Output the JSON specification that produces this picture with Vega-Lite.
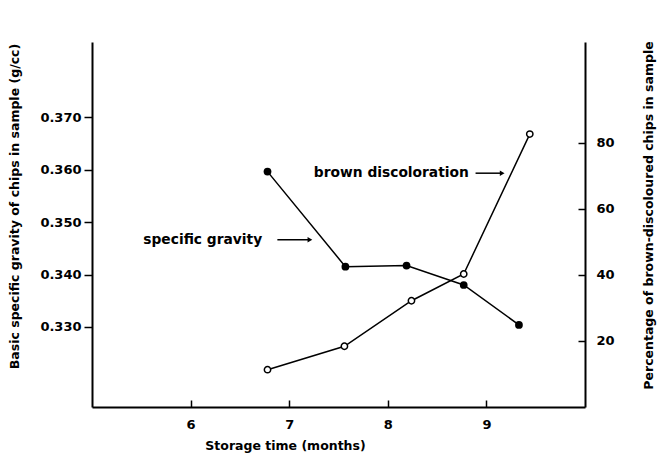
{
  "$schema": "https://vega.github.io/schema/vega-lite/v6.json",
  "width": 493,
  "height": 365,
  "autosize": "none",
  "padding": {"left": 92, "top": 42, "right": 73, "bottom": 54},
  "background": "white",
  "config": {
    "view": {"stroke": null},
    "font": "DejaVu Sans",
    "axis": {
      "grid": false,
      "labelFont": "DejaVu Sans",
      "titleFont": "DejaVu Sans",
      "labelFontWeight": "bold",
      "titleFontWeight": "bold",
      "labelColor": "black",
      "titleColor": "black",
      "domainColor": "black",
      "tickColor": "black",
      "domainWidth": 2,
      "tickWidth": 1.5,
      "labelFontSize": 13,
      "titleFontSize": 12
    }
  },
  "datasets": {
    "gravity": [
      {"month": 6.78, "gravity": 0.3596},
      {"month": 7.57, "gravity": 0.3415},
      {"month": 8.19, "gravity": 0.3417},
      {"month": 8.77, "gravity": 0.3380},
      {"month": 9.33, "gravity": 0.3304}
    ],
    "brown": [
      {"month": 6.78, "pct": 11.3},
      {"month": 7.56, "pct": 18.4},
      {"month": 8.24, "pct": 32.2},
      {"month": 8.77, "pct": 40.3},
      {"month": 9.44, "pct": 82.7}
    ],
    "notes": [
      {"x": 5.52, "y": 0.3466, "label": "specific gravity", "ax1": 6.88, "ax2": 7.21},
      {"x": 7.25, "y": 0.3593, "label": "brown discoloration", "ax1": 8.89, "ax2": 9.16}
    ]
  },
  "encoding": {
    "x": {
      "field": "month",
      "type": "quantitative",
      "scale": {"domain": [5, 10], "nice": false, "zero": false},
      "axis": {
        "values": [6, 7, 8, 9],
        "tickSize": -7,
        "labelPadding": 18,
        "title": "Storage time (months)",
        "titleFontSize": 12.5,
        "titleX": 193,
        "titleY": 38,
        "titleAnchor": null,
        "titleAlign": "center",
        "titleBaseline": "middle"
      }
    }
  },
  "layer": [
    {
      "layer": [
        {
          "data": {"name": "gravity"},
          "mark": {"type": "line", "color": "black", "strokeWidth": 1.5},
          "encoding": {
            "y": {
              "field": "gravity",
              "type": "quantitative",
              "scale": {"domain": [0.31476, 0.38429], "nice": false, "zero": false},
              "axis": {
                "orient": "left",
                "values": [0.33, 0.34, 0.35, 0.36, 0.37],
                "format": ".3f",
                "tickSize": 8,
                "labelPadding": 3,
                "title": "Basic specific gravity of chips in sample (g/cc)",
                "titleFontSize": 12.5,
                "titleAngle": 270,
                "titleX": -78,
                "titleY": 164,
                "titleAlign": "center",
                "titleBaseline": "middle"
              }
            }
          }
        },
        {
          "data": {"name": "gravity"},
          "mark": {"type": "point", "shape": "circle", "filled": true, "color": "black", "size": 60, "opacity": 1},
          "encoding": {"y": {"field": "gravity", "type": "quantitative"}}
        },
        {
          "data": {"name": "notes"},
          "mark": {"type": "text", "align": "left", "baseline": "middle", "fontWeight": "bold", "fontSize": 13.8, "color": "black", "font": "DejaVu Sans"},
          "encoding": {
            "x": {"field": "x", "type": "quantitative"},
            "y": {"field": "y", "type": "quantitative"},
            "text": {"field": "label"}
          }
        },
        {
          "data": {"name": "notes"},
          "mark": {"type": "rule", "color": "black", "strokeWidth": 1.5},
          "encoding": {
            "x": {"field": "ax1", "type": "quantitative"},
            "x2": {"field": "ax2"},
            "y": {"field": "y", "type": "quantitative"}
          }
        },
        {
          "data": {"name": "notes"},
          "mark": {"type": "point", "shape": "triangle-right", "filled": true, "color": "black", "size": 30, "opacity": 1},
          "encoding": {
            "x": {"field": "ax2", "type": "quantitative"},
            "y": {"field": "y", "type": "quantitative"}
          }
        }
      ]
    },
    {
      "data": {"name": "brown"},
      "encoding": {
        "y": {
          "field": "pct",
          "type": "quantitative",
          "scale": {"domain": [0, 110.6], "nice": false},
          "axis": {
            "orient": "right",
            "values": [20, 40, 60, 80],
            "tickSize": -7,
            "labelPadding": 18,
            "title": "Percentage of brown-discoloured chips in sample",
            "titleFontSize": 12.5,
            "titleAngle": 270,
            "titleX": 63,
            "titleY": 173,
            "titleAlign": "center",
            "titleBaseline": "middle"
          }
        }
      },
      "layer": [
        {"mark": {"type": "line", "color": "black", "strokeWidth": 1.5}},
        {"mark": {"type": "point", "shape": "circle", "filled": true, "fill": "white", "stroke": "black", "strokeWidth": 1.5, "size": 40, "opacity": 1}}
      ]
    }
  ],
  "resolve": {"scale": {"y": "independent"}, "axis": {"y": "independent"}}
}
